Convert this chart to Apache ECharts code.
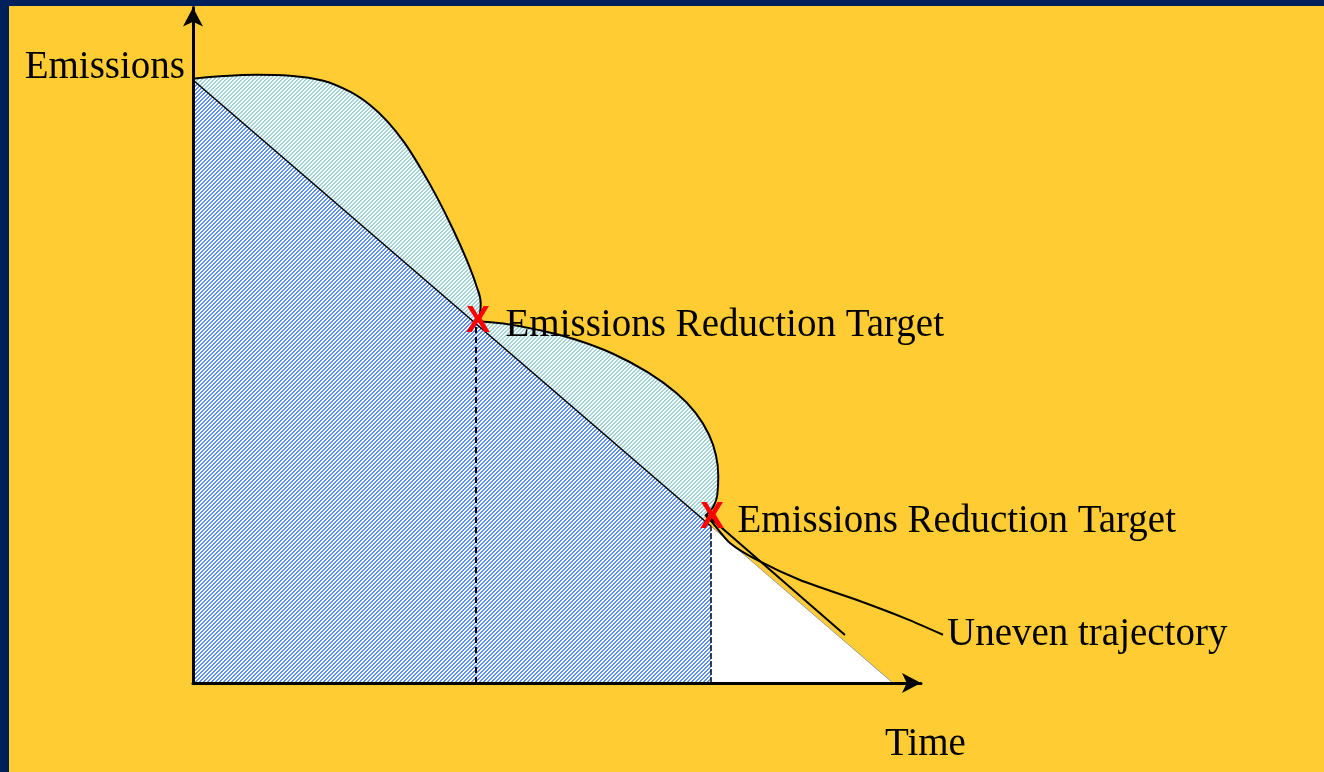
<!DOCTYPE html>
<html>
<head>
<meta charset="utf-8">
<script src="https://cdn.jsdelivr.net/npm/echarts@6/dist/echarts.min.js"></script>
<style>
  html, body { margin: 0; padding: 0; background: #FFCC33; }
  #wrap { position: relative; width: 1324px; height: 772px; overflow: hidden; }
  #chart { position: absolute; left: 0; top: 0; width: 1324px; height: 772px; }
  .bar-top { position: absolute; left: 0; top: 0; width: 1324px; height: 6px; background: #00205B; }
  .bar-left { position: absolute; left: 0; top: 0; width: 9px; height: 772px; background: #00205B; }
</style>
</head>
<body>
<div id="wrap">
  <div id="chart"></div>
  <div class="bar-top"></div>
  <div class="bar-left"></div>
</div>
<script>
// ---- data (time on x, emissions on y; arbitrary units) ----
const axisNames = ['Time', 'Emissions'];
const targetLabel = 'Emissions Reduction Target';
const trajectoryLabel = 'Uneven trajectory';
const targetTimes = [40.43, 74];
const targetLevels = [59.57, 26];
const evenPath = [[0, 100], [74, 26]];
const remainingPath = [[74, 26], [100, 0]];
const unevenPath1 = [[0, 100.2], [4.33, 100.66], [9.1, 100.88], [13.86, 100.71], [18.61, 99.88], [22.43, 98.06], [25.29, 95.85], [27.8, 93.1], [30.2, 89.6], [32.5, 85.4], [34.81, 80.65], [37.19, 75.12], [39.1, 70.15], [40.53, 65.72], [41.1, 62.97], [41.0, 61.31], [40.6, 60.0]];
const unevenPath2 = [[40.6, 60.0], [44.33, 59.6], [49.1, 58.6], [54.5, 57.0], [60.0, 54.6], [65.0, 51.5], [69.1, 48.04], [71.8, 44.8], [73.7, 41.2], [74.7, 37.8], [75.04, 34.3], [74.9, 31.2], [74.4, 29.4], [73.71, 28.36], [73.14, 27.69]];
const unevenPath3 = [[73.29, 27.69], [74.14, 26.7], [76.71, 23.22], [80.57, 20.4], [86.71, 17.08], [94.86, 13.76], [102.0, 10.6], [107.14, 8.0]];
const altPath = [[73.43, 27.86], [93.14, 7.96]];

function makePattern(stripe, bg) {
  const c = document.createElement('canvas');
  c.width = 4; c.height = 4;
  const ctx = c.getContext('2d');
  ctx.fillStyle = bg; ctx.fillRect(0, 0, 4, 4);
  ctx.fillStyle = stripe;
  for (let y = 0; y < 4; y++) for (let x = 0; x < 4; x++) if ((x + y) % 4 < 2) ctx.fillRect(x, y, 1, 1);
  return c;
}
const darkHatch = { image: makePattern('#5E8FF8', '#FFFFFF'), repeat: 'repeat' };
const lightHatch = { image: makePattern('#A6D2D5', '#F4FBFB'), repeat: 'repeat' };

const serif = '"Liberation Serif", "Times New Roman", serif';
const chart = echarts.init(document.getElementById('chart'), null, { renderer: 'canvas' });

const hiddenAxis = { show: false, type: 'value', min: 0 };
const clearItem = { color: 'rgba(0,0,0,0)', opacity: 1 };

const option = {
  animation: false,
  backgroundColor: '#FFCC33',
  grid: [
    { left: 193, right: 403, top: 7.6, bottom: 89, containLabel: false },
    { left: 193, right: 347, top: 7.6, bottom: 89, containLabel: false }
  ],
  xAxis: [{
    type: 'value', min: 0, max: 104, z: 10, gridIndex: 0,
    name: axisNames[0], nameLocation: 'end', nameGap: -36,
    nameTextStyle: { fontFamily: serif, fontSize: 39, color: '#000', align: 'left', verticalAlign: 'top', lineHeight: 39, padding: [42, 0, 0, 0] },
    axisLine: { show: true, onZero: false, symbol: ['none', 'arrow'], symbolSize: [15, 19], lineStyle: { color: '#000', width: 3 } },
    axisTick: { show: false }, axisLabel: { show: false }, splitLine: { show: false }
  }, Object.assign({}, hiddenAxis, { gridIndex: 1, max: 112 })],
  yAxis: [{
    type: 'value', min: 0, max: 112, z: 10, gridIndex: 0,
    name: axisNames[1], nameLocation: 'end', nameGap: -60.5,
    nameTextStyle: { fontFamily: serif, fontSize: 39, color: '#000', align: 'right', verticalAlign: 'middle', padding: [0, 8, 0, 0] },
    axisLine: { show: true, onZero: false, symbol: ['none', 'arrow'], symbolSize: [15, 19], lineStyle: { color: '#000', width: 3 } },
    axisTick: { show: false }, axisLabel: { show: false }, splitLine: { show: false }
  }, Object.assign({}, hiddenAxis, { gridIndex: 1, max: 112 })],
  series: [
    { type: 'line', data: unevenPath1, smooth: 0.4, symbol: 'none', z: 2,
      lineStyle: { color: '#000', width: 2 }, areaStyle: { color: lightHatch, opacity: 1 } },
    { type: 'line', data: unevenPath2, smooth: 0.45, symbol: 'none', z: 2,
      lineStyle: { color: '#000', width: 2 }, areaStyle: { color: lightHatch, opacity: 1 } },
    { type: 'line', data: evenPath, symbol: 'none', z: 3,
      lineStyle: { color: '#000', width: 1.5 }, areaStyle: { color: darkHatch, opacity: 1 } },
    { type: 'line', data: remainingPath, symbol: 'none', z: 3,
      lineStyle: { color: '#9A9A9A', width: 1 }, areaStyle: { color: '#FFFFFF', opacity: 1 } },
    { type: 'line', data: [[targetTimes[0], 0], [targetTimes[0], targetLevels[0]]], symbol: 'none', z: 4,
      lineStyle: { color: '#000', width: 2, type: [6, 4] } },
    { type: 'line', data: [[targetTimes[1], 0], [targetTimes[1], targetLevels[1]]], symbol: 'none', z: 4,
      lineStyle: { color: '#000', width: 1.5, type: [6, 2] } },
    { type: 'line', data: altPath, symbol: 'none', z: 5,
      lineStyle: { color: '#000', width: 2 } },
    { type: 'line', xAxisIndex: 1, yAxisIndex: 1, smooth: 0.25, symbol: 'none', z: 5,
      data: unevenPath3,
      endLabel: { show: true, formatter: trajectoryLabel, distance: 4, padding: [7, 0, 0, 0],
        fontFamily: serif, fontSize: 39, color: '#000' },
      lineStyle: { color: '#000', width: 2 } },
    { type: 'scatter', symbolSize: 1, itemStyle: clearItem, z: 6, clip: false,
      data: [
        { value: [targetTimes[0], targetLevels[0]], label: { offset: [2, -2] } },
        { value: [targetTimes[1], targetLevels[1]], label: { offset: [1, -8] } }
      ],
      label: { show: true, position: 'inside', formatter: 'X', color: '#FF0000', fontSize: 36, fontWeight: 'bold',
        fontFamily: '"Liberation Sans", Arial, sans-serif' } },
    { type: 'scatter', symbolSize: 1, itemStyle: clearItem, z: 6, clip: false,
      data: [
        { value: [targetTimes[0], targetLevels[0]], label: { offset: [29, 2] } },
        { value: [targetTimes[1], targetLevels[1]], label: { offset: [26, -4] } }
      ],
      label: { show: true, position: 'right', distance: 0, formatter: targetLabel, color: '#000', fontSize: 39,
        fontFamily: serif, align: 'left', verticalAlign: 'middle' } }
  ]
};
chart.setOption(option);
</script>
</body>
</html>
